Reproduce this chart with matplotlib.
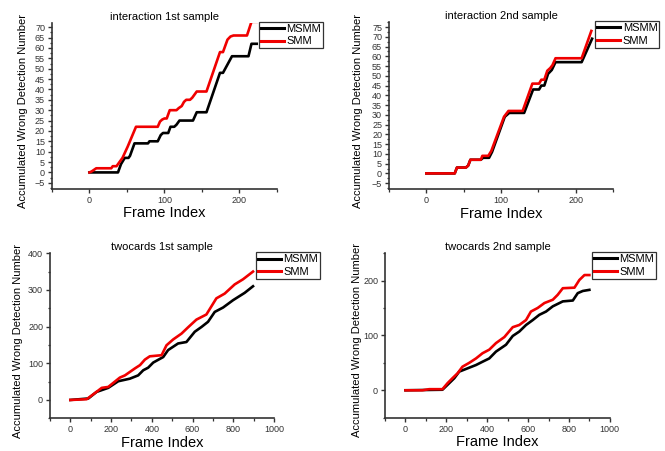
import numpy as np
import matplotlib
matplotlib.use('Agg')
import matplotlib.pyplot as plt
from matplotlib.ticker import MultipleLocator

plt.rcParams['font.family'] = ['Liberation Sans', 'DejaVu Sans']

# interaction 1st sample
int1_msmm_x = [0, 38, 42, 47, 52, 54, 60, 78, 80, 91, 95, 98, 105, 108, 113, 116, 120, 138, 143, 156, 174, 178, 181, 190, 212, 216, 223]
int1_msmm_y = [0, 0, 4, 7, 7, 8, 14, 14, 15, 15, 18, 19, 19, 22, 22, 23, 25, 25, 29, 29, 48, 48, 50, 56, 56, 62, 62]
int1_smm_x = [0, 3, 9, 29, 31, 36, 40, 44, 51, 62, 91, 94, 97, 100, 103, 107, 116, 119, 123, 126, 129, 134, 137, 143, 156, 174, 178, 184, 188, 192, 210, 216, 223]
int1_smm_y = [0, 0.5, 2, 2, 3, 3, 5, 7, 12.5, 22, 22, 24.5, 25.5, 26, 26, 30, 30, 31, 32, 34, 35, 35, 36, 39, 39, 58, 58, 64, 65.5, 66, 66, 72.6, 72.6]

# interaction 2nd sample
int2_msmm_x = [0, 38, 41, 53, 56, 59, 73, 76, 84, 88, 105, 111, 131, 143, 151, 154, 158, 163, 168, 173, 208, 222]
int2_msmm_y = [0, 0, 3, 3, 4, 7, 7, 8, 8, 11, 29, 31, 31, 43, 43, 45, 45, 51, 53, 57, 57, 69]
int2_smm_x = [0, 38, 41, 53, 56, 59, 73, 75, 83, 87, 104, 110, 129, 142, 151, 154, 158, 162, 166, 169, 173, 208, 221]
int2_smm_y = [0, 0, 3, 3, 4, 7, 7, 9, 9, 11.5, 29, 32, 32, 46, 46, 48, 48, 52.6, 54, 55.5, 59, 59, 73]

# twocards 1st sample
two1_msmm_x = [0, 88, 129, 186, 235, 292, 333, 358, 382, 407, 456, 480, 529, 570, 611, 644, 676, 709, 750, 799, 856, 897]
two1_msmm_y = [0, 4, 22, 33, 51, 58, 67, 81, 88, 102, 117, 136, 154, 158, 186, 199, 213, 240, 252, 272, 292, 310]
two1_smm_x = [0, 80, 121, 154, 186, 243, 268, 317, 342, 366, 390, 448, 472, 505, 546, 578, 619, 668, 717, 758, 807, 848, 897]
two1_smm_y = [0, 2, 19, 33, 35.5, 61, 67, 86, 95, 110, 119, 122, 149, 165, 181, 198, 219, 233, 277, 290, 315, 329, 350]

# twocards 2nd sample
two2_msmm_x = [0, 181, 206, 239, 263, 304, 345, 377, 410, 443, 492, 525, 557, 590, 623, 655, 688, 721, 770, 819, 843, 868, 900]
two2_msmm_y = [0, 1, 10, 22, 34, 40, 46, 52, 58, 70.5, 83, 99, 107, 119, 128, 137.5, 143.5, 153, 162, 163.6, 177, 181, 183]
two2_smm_x = [0, 83, 116, 181, 206, 230, 255, 279, 312, 345, 377, 410, 443, 484, 525, 557, 590, 614, 647, 680, 721, 745, 770, 827, 851, 876, 900]
two2_smm_y = [0, 0, 2, 2, 13, 22, 31, 43, 50, 58, 67.5, 74, 86, 97, 115, 119, 128, 143.5, 150, 159, 165, 174, 186, 187, 201, 210, 210]


def panel(rect, title, mx, my, sx, sy, xlim, ylim, xmaj, xmin, ymin, yticks, ylab_x):
    ax = fig.add_axes(rect)
    ax.plot(mx, my, '-', color='black', linewidth=1.9, label='MSMM')
    ax.plot(sx, sy, '-', color='#f00000', linewidth=1.9, label='SMM')
    ax.set_xlim(xlim)
    ax.set_ylim(ylim)
    ax.set_xticks(np.arange(0, xlim[1] + 1, xmaj))
    ax.xaxis.set_minor_locator(MultipleLocator(xmin))
    ax.set_yticks(yticks)
    ax.yaxis.set_minor_locator(MultipleLocator(ymin))
    ax.spines['top'].set_visible(False)
    ax.spines['right'].set_visible(False)
    for s in ['left', 'bottom']:
        ax.spines[s].set_linewidth(1.2)
        ax.spines[s].set_color('#333333')
    ax.tick_params(which='major', direction='out', length=3, width=1, labelsize=6.5,
                   colors='#333333', pad=2)
    ax.tick_params(which='minor', direction='out', length=1.8, width=0.9, colors='#333333')
    ax.set_title(title, fontsize=8, pad=2)
    ax.set_ylabel('Accumulated Wrong Detection Number', fontsize=8)
    ax.yaxis.set_label_coords(ylab_x, 0.47)
    ax.set_xlabel('Frame Index', fontsize=10.5)
    ax.xaxis.set_label_coords(0.5, -0.105)
    leg = ax.legend(loc='upper left', bbox_to_anchor=(0.92, 1.005), fontsize=8,
                    frameon=True, fancybox=False, handlelength=2.1, handletextpad=0.2,
                    labelspacing=0.2, borderpad=0.18, borderaxespad=0)
    leg.get_frame().set_edgecolor('black')
    leg.get_frame().set_linewidth(0.9)
    for line in leg.get_lines():
        line.set_linewidth(2.2)
    return ax


fig = plt.figure(figsize=(6.65, 4.51), dpi=100)

panel([0.0782, 0.5809, 0.3383, 0.368], 'interaction 1st sample',
      int1_msmm_x, int1_msmm_y, int1_smm_x, int1_smm_y,
      (-50, 250), (-8, 72), 100, 50, 2.5, np.arange(-5, 71, 5), -0.107)
panel([0.585, 0.5809, 0.3368, 0.370], 'interaction 2nd sample',
      int2_msmm_x, int2_msmm_y, int2_smm_x, int2_smm_y,
      (-50, 250), (-8, 77.5), 100, 50, 2.5, np.arange(-5, 76, 5), -0.116)
panel([0.0752, 0.0725, 0.3368, 0.366], 'twocards 1st sample',
      two1_msmm_x, two1_msmm_y, two1_smm_x, two1_smm_y,
      (-100, 1000), (-50, 400), 200, 100, 50, np.arange(0, 401, 100), -0.12)
panel([0.579, 0.0738, 0.338, 0.365], 'twocards 2nd sample',
      two2_msmm_x, two2_msmm_y, two2_smm_x, two2_smm_y,
      (-100, 1000), (-50, 250), 200, 100, 50, np.arange(0, 201, 100), -0.102)

plt.savefig('out.png', dpi=100)
